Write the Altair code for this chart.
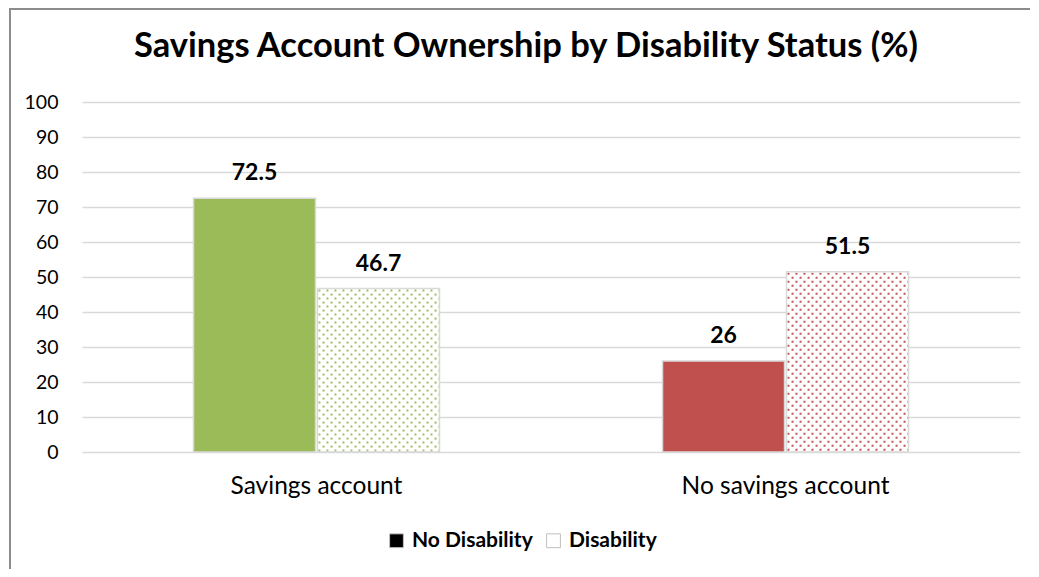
import base64
import altair as alt
import pandas as pd

title_text = ["Savings Account Ownership by Disability Status (%)"]
categories = ["Savings account", "No savings account"]
series = ["No Disability", "Disability"]
no_disability = [72.5, 26]
disability = [46.7, 51.5]
labels_no = ["72.5", "26"]
labels_dis = ["46.7", "51.5"]
cat_colors = ["#9bbb59", "#c0504d"]


def dot_url(c):
    svg = (
        "<svg xmlns='http://www.w3.org/2000/svg' width='100%' height='100%'>"
        "<defs><pattern id='p' width='8' height='8' patternUnits='userSpaceOnUse'>"
        f"<rect x='1' y='1' width='2' height='2' fill='{c}'/>"
        f"<rect x='5' y='5' width='2' height='2' fill='{c}'/>"
        "</pattern></defs>"
        "<rect width='100%' height='100%' fill='white'/>"
        "<rect width='100%' height='100%' fill='url(#p)'/></svg>"
    )
    return "data:image/svg+xml;base64," + base64.b64encode(svg.encode()).decode()


rows = []
for i, cat in enumerate(categories):
    rows.append(dict(category=cat, series=series[0], value=no_disability[i],
                     label=labels_no[i], color=cat_colors[i], url=dot_url(cat_colors[i])))
    rows.append(dict(category=cat, series=series[1], value=disability[i],
                     label=labels_dis[i], color=cat_colors[i], url=dot_url(cat_colors[i])))
df = pd.DataFrame(rows)

FONT = "Lato"
W, H = 938, 350

x = alt.X("category:N", sort=categories,
          scale=alt.Scale(paddingInner=0.4755, paddingOuter=0.2377),
          axis=alt.Axis(title=None, labelAngle=0, ticks=False, domain=False,
                        labelFontSize=24.5, labelColor="#000000", labelPadding=22,
                        labelFont=FONT, labelLimit=400))
xo = alt.XOffset("series:N", sort=series, scale=alt.Scale(paddingInner=0.016))
y = alt.Y("value:Q", scale=alt.Scale(domain=[0, 100]),
          axis=alt.Axis(title=None, values=list(range(0, 101, 10)), ticks=False,
                        domain=False, gridColor="#d9d9d9", gridWidth=1.3,
                        labelFontSize=19.5, labelColor="#000000", labelPadding=24,
                        labelFont=FONT))

base = alt.Chart(df)

legend_bars = base.mark_bar().encode(
    x=x, xOffset=xo, y=y, y2=alt.datum(0),
    fill=alt.Fill("series:N", sort=series,
                  scale=alt.Scale(domain=series, range=["#000000", "#ffffff"]),
                  legend=alt.Legend(title=None, orient="none", direction="horizontal",
                                    legendX=304, legendY=428,
                                    symbolType="square", symbolSize=190,
                                    symbolStrokeColor="#bfbfbf", symbolStrokeWidth=1,
                                    labelFontSize=21, labelFontWeight="bold",
                                    labelFont=FONT, labelColor="#000000",
                                    labelOffset=5, columnPadding=10)),
)

solid = base.transform_filter(alt.datum.series == "No Disability").mark_bar().encode(
    x=x, xOffset=xo, y=y, y2=alt.datum(0),
    fill=alt.Fill("color:N", scale=None),
)

dots = base.transform_filter(alt.datum.series == "Disability").mark_image(
    aspect=False
).encode(
    x=x, xOffset=xo, y=y, y2=alt.datum(0), url="url:N",
)

outline = base.mark_bar(fillOpacity=0, stroke="#d9d9d9", strokeWidth=1.5).encode(
    x=x, xOffset=xo, y=y, y2=alt.datum(0),
)

text = base.mark_text(fontSize=23, fontWeight="bold", font=FONT, color="#000000",
                      baseline="alphabetic", dy=-18).encode(
    x=x, xOffset=xo, y=y, text="label:N",
)

title = alt.Chart(pd.DataFrame({"t": title_text})).mark_text(
    font=FONT, fontSize=34.5, fontWeight="bold", color="#000000",
    align="center", baseline="alphabetic"
).encode(x=alt.value(W / 2 - 25), y=alt.value(-45), text="t:N")

frame_df = pd.DataFrame({"k": [0]})
frame_left = alt.Chart(frame_df).mark_rule(color="#8c8c8c", strokeWidth=2).encode(
    x=alt.value(-72), y=alt.value(-93), y2=alt.value(480))
frame_top = alt.Chart(frame_df).mark_rule(color="#8c8c8c", strokeWidth=2).encode(
    x=alt.value(-73), x2=alt.value(960), y=alt.value(-93))

chart = alt.layer(legend_bars, solid, dots, outline, text, title,
                  frame_left, frame_top).properties(
    width=W, height=H,
    autosize=alt.AutoSizeParams(type="none"),
    padding={"left": 74, "top": 94, "right": 10, "bottom": 117},
).configure_view(stroke=None)

chart.save("out.html", embed_options={"renderer": "svg", "actions": False})
